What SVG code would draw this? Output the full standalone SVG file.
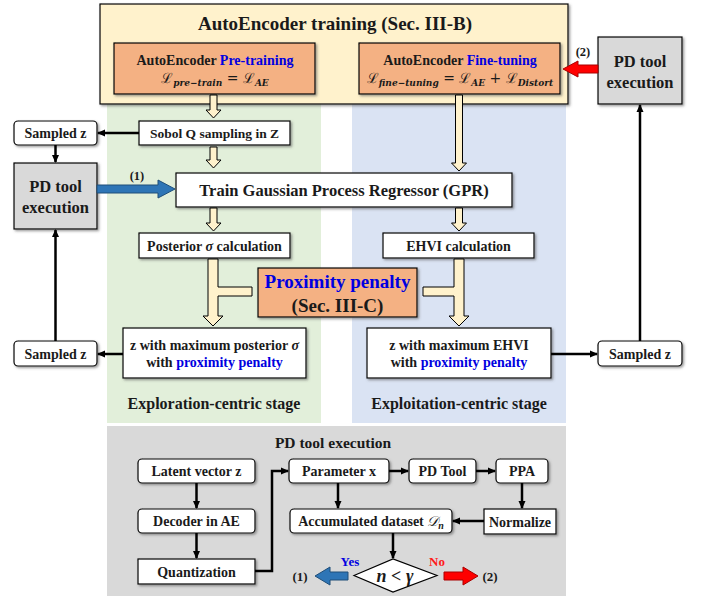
<svg xmlns="http://www.w3.org/2000/svg" width="702" height="596" viewBox="0 0 702 596">
<defs>
<filter id="sh" x="-10%" y="-10%" width="130%" height="140%">
<feDropShadow dx="1.5" dy="1.5" stdDeviation="0.8" flood-color="#555" flood-opacity="0.6"/>
</filter>
<marker id="ah" markerWidth="8" markerHeight="8" refX="7" refY="4" orient="auto" markerUnits="userSpaceOnUse">
<path d="M0,0.5 L8,4 L0,7.5 Z" fill="#000"/>
</marker>
</defs>
<style>
text{font-family:"Liberation Serif","Times New Roman",serif;font-weight:bold;fill:#1a1a1a}
.box{fill:#fff;stroke:#000;stroke-width:1.2;filter:url(#sh)}
.org{fill:#f4b183;stroke:#000;stroke-width:1.2;filter:url(#sh)}
.gry{fill:#d9d9d9;stroke:#000;stroke-width:1.2;filter:url(#sh)}
.ya{fill:#fff2cc;stroke:#000;stroke-width:1}
.ln{fill:none;stroke:#000;stroke-width:2.5;marker-end:url(#ah)}
.blu{fill:#0000e0}
.math{font-family:"DejaVu Serif","Liberation Serif",serif;font-weight:normal}
.sub{font-style:italic;font-weight:bold;font-size:9px}
.c{text-anchor:middle}
</style>

<!-- background regions -->
<rect x="107" y="103" width="214" height="320" fill="#e2efda"/>
<rect x="352" y="103" width="214" height="320" fill="#dae3f3"/>
<rect x="107" y="426" width="459" height="170" fill="#d9d9d9"/>

<g id="ae-training">
<rect x="100" y="4" width="468" height="100" fill="#fff2cc" stroke="#000" stroke-width="1.2" filter="url(#sh)"/>
<text x="335" y="30" class="c" font-size="19">AutoEncoder training (Sec. III-B)</text>
</g>
<g id="pretrain">
<rect class="org" x="114" y="43" width="201" height="51"/>
<text x="215" y="65" class="c" font-size="14">AutoEncoder <tspan class="blu">Pre-training</tspan></text>
<text x="215" y="83" class="c math" font-size="14">ℒ<tspan class="sub" dy="3">pre−train</tspan><tspan dy="-3"> = ℒ</tspan><tspan class="sub" dy="3">AE</tspan></text>
</g>
<g id="finetune">
<rect class="org" x="359" y="43" width="201" height="51"/>
<text x="460" y="65" class="c" font-size="14">AutoEncoder <tspan class="blu">Fine-tuning</tspan></text>
<text x="460" y="83" class="c math" font-size="14">ℒ<tspan class="sub" dy="3">fine−tuning</tspan><tspan dy="-3"> = ℒ</tspan><tspan class="sub" dy="3">AE</tspan><tspan dy="-3"> + ℒ</tspan><tspan class="sub" dy="3">Distort</tspan></text>
</g>

<g id="sobol">
<rect class="box" x="139" y="121" width="151" height="24"/>
<text x="214.5" y="138" class="c" font-size="13.5">Sobol Q sampling in Z</text>
</g>
<g id="sampled-tl">
<rect class="box" x="14" y="121" width="83" height="24" rx="4"/>
<text x="55.5" y="138" class="c" font-size="14">Sampled z</text>
</g>
<g id="pd-left">
<rect class="gry" x="14" y="163" width="83" height="66"/>
<text x="55.5" y="192" class="c" font-size="16.5">PD tool</text>
<text x="55.5" y="213" class="c" font-size="16.5">execution</text>
</g>
<g id="gpr">
<rect class="box" x="176" y="173" width="336" height="34"/>
<text x="344" y="196" class="c" font-size="16.5">Train Gaussian Process Regressor (GPR)</text>
</g>
<g id="posterior">
<rect class="box" x="139" y="233" width="151" height="25"/>
<text x="214.5" y="250.5" class="c" font-size="14">Posterior <tspan font-style="italic">σ</tspan> calculation</text>
</g>
<g id="ehvi">
<rect class="box" x="383" y="233" width="151" height="25"/>
<text x="458.5" y="250.5" class="c" font-size="14">EHVI calculation</text>
</g>
<g id="proximity">
<rect class="org" x="258" y="268" width="159" height="49"/>
<text x="337.5" y="288" class="c blu" font-size="19">Proximity penalty</text>
<text x="337.5" y="312" class="c" font-size="19">(Sec. III-C)</text>
</g>
<g id="zmax-post">
<rect class="box" x="123" y="328" width="183" height="50"/>
<text x="214.5" y="350" class="c" font-size="14">z with maximum posterior <tspan font-style="italic">σ</tspan></text>
<text x="214.5" y="367" class="c" font-size="14">with <tspan class="blu">proximity penalty</tspan></text>
</g>
<g id="zmax-ehvi">
<rect class="box" x="367" y="328" width="184" height="50"/>
<text x="459" y="350" class="c" font-size="14">z with maximum EHVI</text>
<text x="459" y="367" class="c" font-size="14">with <tspan class="blu">proximity penalty</tspan></text>
</g>
<g id="sampled-bl">
<rect class="box" x="14" y="341" width="83" height="25" rx="4"/>
<text x="55.5" y="358.5" class="c" font-size="14">Sampled z</text>
</g>
<g id="sampled-br">
<rect class="box" x="598" y="341" width="84" height="25" rx="4"/>
<text x="640" y="358.5" class="c" font-size="14">Sampled z</text>
</g>
<g id="pd-right">
<rect class="gry" x="598" y="37" width="84" height="67"/>
<text x="640" y="67" class="c" font-size="16.5">PD tool</text>
<text x="640" y="88" class="c" font-size="16.5">execution</text>
</g>

<g id="stage-labels">
<text x="214" y="409" class="c" font-size="16">Exploration-centric stage</text>
<text x="459" y="409" class="c" font-size="16">Exploitation-centric stage</text>
</g>

<!-- bottom PD tool execution section -->
<text x="333" y="448" class="c" font-size="15.5">PD tool execution</text>
<g id="latent">
<rect class="box" x="138" y="459" width="117" height="24" rx="4"/>
<text x="196.5" y="476" class="c" font-size="14">Latent vector z</text>
</g>
<g id="decoder">
<rect class="box" x="138" y="509" width="117" height="24" rx="4"/>
<text x="196.5" y="526" class="c" font-size="14">Decoder in AE</text>
</g>
<g id="quant">
<rect class="box" x="138" y="559" width="117" height="25"/>
<text x="196.5" y="576.5" class="c" font-size="14">Quantization</text>
</g>
<g id="param">
<rect class="box" x="289" y="459" width="100" height="24" rx="4"/>
<text x="339" y="476" class="c" font-size="14">Parameter x</text>
</g>
<g id="pdtool">
<rect class="box" x="409" y="459" width="67" height="24" rx="4"/>
<text x="442.5" y="476" class="c" font-size="14">PD Tool</text>
</g>
<g id="ppa">
<rect class="box" x="496" y="459" width="52" height="24" rx="4"/>
<text x="522" y="476" class="c" font-size="14">PPA</text>
</g>
<g id="normalize">
<rect class="box" x="484" y="509" width="72" height="25"/>
<text x="520" y="526.5" class="c" font-size="14">Normalize</text>
</g>
<g id="accum">
<rect class="box" x="290" y="509" width="162" height="24" rx="4"/>
<text x="371" y="526" class="c" font-size="14">Accumulated dataset <tspan class="math" font-style="italic">𝒟</tspan><tspan font-style="italic" font-size="10" dy="3">n</tspan></text>
</g>
<g id="decision">
<path d="M354,575.5 L393,559 L437,575.5 L393,592 Z" fill="#fff" stroke="#000" stroke-width="1.2"/>
<text x="395" y="582" class="c" font-size="18" font-style="italic">n &lt; γ</text>
</g>

<g id="connectors">
<!-- hollow yellow arrows -->
<path class="ya" d="M210,95 L217,95 L217,110 L221,110 L213.5,118 L206,110 L210,110 Z"/>
<path class="ya" d="M210,147 L217,147 L217,160 L221,160 L213.5,168 L206,160 L210,160 Z"/>
<path class="ya" d="M210,208 L217,208 L217,223 L221,223 L213.5,231 L206,223 L210,223 Z"/>
<path class="ya" d="M455.5,95 L462.5,95 L462.5,163 L466.5,163 L459,171 L451.5,163 L455.5,163 Z"/>
<path class="ya" d="M455.5,208 L462.5,208 L462.5,223 L466.5,223 L459,231 L451.5,223 L455.5,223 Z"/>
<path class="ya" d="M208,259 L218,259 L218,287 L252,287 L252,296 L218,296 L218,316 L223,316 L213,326 L203,316 L208,316 Z"/>
<path class="ya" d="M423,287 L454,287 L454,259 L464,259 L464,316 L469,316 L459,326 L449,316 L454,316 L454,296 L423,296 Z"/>
<!-- black line arrows -->
<line class="ln" x1="139" y1="133" x2="98" y2="133"/>
<line class="ln" x1="55.5" y1="145" x2="55.5" y2="162"/>
<line class="ln" x1="123" y1="354" x2="98" y2="354"/>
<line class="ln" x1="55.5" y1="341" x2="55.5" y2="230"/>
<line class="ln" x1="551" y1="354" x2="597" y2="354"/>
<line class="ln" x1="640" y1="341" x2="640" y2="105"/>
<line class="ln" x1="196.5" y1="483" x2="196.5" y2="508"/>
<line class="ln" x1="196.5" y1="533" x2="196.5" y2="558"/>
<polyline class="ln" points="255,571 272,571 272,471 288,471"/>
<line class="ln" x1="389" y1="471" x2="408" y2="471"/>
<line class="ln" x1="476" y1="471" x2="495" y2="471"/>
<line class="ln" x1="522" y1="483" x2="522" y2="508"/>
<line class="ln" x1="484" y1="521" x2="453" y2="521"/>
<line class="ln" x1="338" y1="483" x2="338" y2="508"/>
<line class="ln" x1="393" y1="533" x2="393" y2="558"/>
<!-- blue / red block arrows -->
<path d="M97,185 L158,185 L158,180 L175,189 L158,198 L158,193 L97,193 Z" fill="#2e75b6" stroke="#1f4e79" stroke-width="1"/>
<text x="137" y="180" class="c" font-size="12.5">(1)</text>
<path d="M598,65 L578,65 L578,61 L563,69 L578,77 L578,73 L598,73 Z" fill="#ff0000" stroke="#a00" stroke-width="1"/>
<text x="583" y="56" class="c" font-size="12.5">(2)</text>
<path d="M348,572 L330,572 L330,567 L315,576 L330,585 L330,580 L348,580 Z" fill="#2e75b6" stroke="#1f4e79" stroke-width="1"/>
<text x="300" y="581" class="c" font-size="13">(1)</text>
<text x="350" y="566" class="c blu" font-size="13">Yes</text>
<path d="M444,572 L463,572 L463,567 L478,576 L463,585 L463,580 L444,580 Z" fill="#ff0000" stroke="#a00" stroke-width="1"/>
<text x="490" y="581" class="c" font-size="13">(2)</text>
<text x="437" y="566" class="c" font-size="13" style="fill:#ff1a1a">No</text>
</g>
</svg>
